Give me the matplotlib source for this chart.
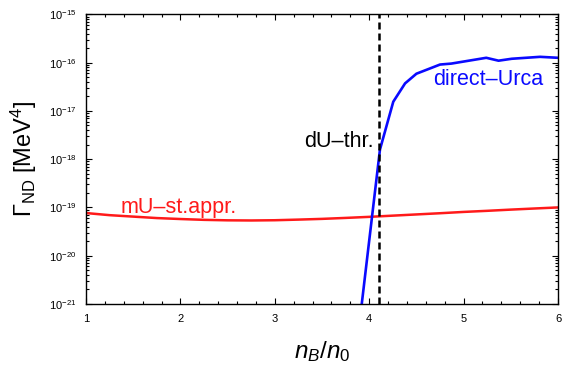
import matplotlib
matplotlib.use("Agg")
import matplotlib.pyplot as plt
import numpy as np
from matplotlib.ticker import LogLocator, MultipleLocator, NullFormatter

plt.rcParams['font.family'] = ['Liberation Sans', 'DejaVu Sans']
plt.rcParams['mathtext.fontset'] = 'custom'
plt.rcParams['mathtext.rm'] = 'Liberation Sans'
plt.rcParams['mathtext.it'] = 'Liberation Sans:italic'
plt.rcParams['mathtext.bf'] = 'Liberation Sans:bold'

# modified Urca (steady-state approx.), log10 of rate
mu_n = [1.0, 1.25, 1.5, 1.75, 2.0, 2.25, 2.5, 2.75, 3.0, 3.25, 3.5, 3.75, 4.0,
        4.25, 4.5, 4.75, 5.0, 5.25, 5.5, 5.75, 6.0]
mu_log = [-19.116, -19.16, -19.19, -19.22, -19.24, -19.257, -19.267, -19.27, -19.265,
          -19.252, -19.237, -19.217, -19.195, -19.17, -19.145, -19.12, -19.093,
          -19.07, -19.045, -19.022, -19.0]
mu_rate = [10.0 ** v for v in mu_log]

# direct Urca, log10 of rate
du_n = [3.90, 4.03, 4.114, 4.255, 4.38, 4.50, 4.75, 4.87, 5.24, 5.37, 5.51, 5.81, 6.0]
du_log = [-21.35, -19.19, -17.80, -16.81, -16.43, -16.23, -16.04, -16.02, -15.90,
          -15.96, -15.92, -15.88, -15.90]
du_rate = [10.0 ** v for v in du_log]

du_threshold = 4.10

fig = plt.figure(figsize=(5.62, 3.67), dpi=100)
ax = fig.add_axes([0.153, 0.1717, 0.8399, 0.7892])

ax.plot(mu_n, mu_rate, color='#ff1a1a', lw=1.8)
ax.plot(du_n, du_rate, color='#0a0aff', lw=1.9)
ax.axvline(du_threshold, color='black', lw=1.8, ls=(0, (2.8, 1.6)))

ax.set_yscale('log')
ax.set_xlim(1, 6)
ax.set_ylim(1e-21, 1e-15)

ax.xaxis.set_major_locator(MultipleLocator(1))
ax.xaxis.set_minor_locator(MultipleLocator(0.2))
ax.yaxis.set_major_locator(LogLocator(base=10, numticks=10))
ax.yaxis.set_minor_locator(LogLocator(base=10, subs=np.arange(2, 10), numticks=20))
ax.yaxis.set_minor_formatter(NullFormatter())

ax.tick_params(which='both', direction='in', top=True, right=True, labelsize=8, width=0.8)
ax.tick_params(which='major', length=4, pad=7)
ax.tick_params(which='minor', length=2)
for s in ax.spines.values():
    s.set_linewidth(1.0)

ax.text(4.05, 10 ** -17.63, 'dU\u2013thr.', fontsize=15.5, ha='right', va='center', color='black')
ax.text(5.84, 10 ** -16.35, 'direct\u2013Urca', fontsize=15.5, ha='right', va='center', color='#0a0aff')
ax.text(1.37, 10 ** -19.0, 'mU\u2013st.appr.', fontsize=15.5, ha='left', va='center', color='#ff1a1a')

ax.set_xlabel(r'$n_B/n_0$', fontsize=17.5, labelpad=11)
ax.set_ylabel(r'$\Gamma_{\rm ND}$ [MeV$^4$]', fontsize=17, labelpad=7)

fig.savefig('out.png', dpi=100)
